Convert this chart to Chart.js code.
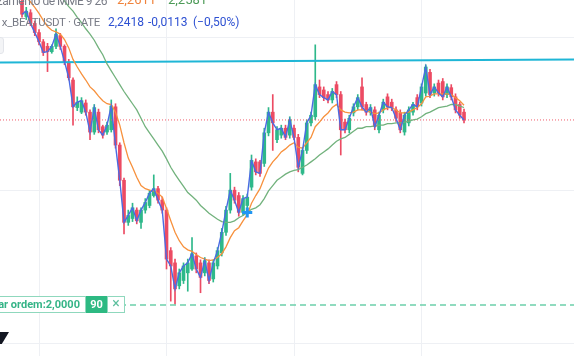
<!DOCTYPE html>
<html><head><meta charset="utf-8">
<script src="https://cdn.jsdelivr.net/npm/chart.js@4.4.1/dist/chart.umd.min.js"></script>
<style>
html,body{margin:0;padding:0;background:#fff;overflow:hidden;}
#wrap{position:relative;width:574px;height:356px;overflow:hidden;background:#fff;}
#c{position:absolute;left:0;top:0;}
.t{position:absolute;font-family:Roboto,"Noto Sans",sans-serif;font-size:11.5px;line-height:16px;white-space:nowrap;}
.r{text-align:right;}
</style></head><body>
<div id="wrap">
<canvas id="c" width="574" height="356"></canvas>
<div class="t r" style="right:467px;top:-7px;color:#787b86;font-size:12px;letter-spacing:-0.5px;">Cruzamento de MME 9 26</div>
<div class="t" style="left:117px;top:-8px;color:#f0833c;font-size:13px;">2,2611</div>
<div class="t" style="left:168px;top:-8px;color:#4c9a57;font-size:13px;">2,2581</div>
<div class="t r" style="right:474px;top:14px;color:#787b86;font-size:11.5px;letter-spacing:-0.3px;">x_BEATUSDT · GATE</div>
<div class="t" style="left:108px;top:14px;color:#2d50d2;font-size:12px;">2,2418</div>
<div class="t" style="left:148px;top:14px;color:#2d50d2;font-size:12px;">-0,0113</div>
<div class="t" style="left:193px;top:14px;color:#2d50d2;font-size:12px;">(−0,50%)</div>
<div style="position:absolute;left:-20px;top:37px;width:22px;height:15px;border:1px solid #e3e5ea;border-radius:3px;background:#f3f4f6;"></div>
<div style="position:absolute;left:-60px;top:296px;width:144px;height:15px;border:1px solid #8fd8bd;background:#fff;"></div>
<div class="t r" style="right:494px;top:296px;line-height:17px;font-size:11px;font-weight:bold;color:#35b487;">Executar ordem:2,0000</div>
<div style="position:absolute;left:86px;top:296px;width:21px;height:17px;background:#2db982;"></div>
<div class="t" style="left:86px;width:21px;top:296px;line-height:17px;font-size:11px;font-weight:bold;color:#fff;text-align:center;">90</div>
<div style="position:absolute;left:107px;top:296px;width:16px;height:15px;border:1px solid #8fd8bd;background:#fff;"></div>
<div class="t" style="left:108px;width:16px;top:295px;line-height:17px;font-size:14px;color:#5cbf9d;text-align:center;">×</div>
<div style="position:absolute;left:0;top:332px;width:9px;height:12px;background:#131722;clip-path:polygon(0 0,100% 0,20% 100%,0 100%);"></div>
</div>
<script>
// candle open / high / low / close (price)
const open = [2.397,2.377,2.382,2.368,2.356,2.344,2.338,2.331,2.338,2.352,2.338,2.317,2.294,2.258,2.252,2.264,2.252,2.226,2.252,2.233,
2.226,2.229,2.259,2.209,2.163,2.108,2.113,2.124,2.108,2.124,2.130,2.143,2.152,2.137,2.124,2.071,2.055,2.025,2.032,2.042,
2.047,2.064,2.055,2.042,2.055,2.034,2.051,2.068,2.095,2.124,2.150,2.143,2.121,2.130,2.154,2.187,2.187,2.185,2.225,2.252,
2.216,2.222,2.231,2.222,2.231,2.219,2.172,2.202,2.238,2.246,2.285,2.281,2.275,2.268,2.288,2.275,2.239,2.229,2.251,2.259,
2.285,2.262,2.252,2.255,2.229,2.255,2.272,2.265,2.255,2.251,2.226,2.238,2.252,2.271,2.264,2.277,2.304,2.277,2.290,2.292,
2.275,2.284,2.272,2.262,2.252];
const high = [2.410,2.389,2.386,2.371,2.360,2.347,2.342,2.340,2.361,2.355,2.340,2.321,2.297,2.272,2.271,2.268,2.255,2.262,2.256,2.235,
2.239,2.268,2.263,2.212,2.166,2.124,2.133,2.127,2.127,2.139,2.150,2.170,2.155,2.141,2.127,2.075,2.060,2.047,2.055,2.060,
2.088,2.068,2.059,2.062,2.059,2.059,2.075,2.100,2.129,2.172,2.154,2.147,2.143,2.145,2.196,2.191,2.189,2.231,2.258,2.275,
2.233,2.235,2.235,2.246,2.235,2.223,2.206,2.242,2.252,2.340,2.294,2.285,2.279,2.283,2.292,2.279,2.243,2.248,2.263,2.275,
2.297,2.265,2.262,2.259,2.252,2.269,2.276,2.269,2.259,2.255,2.252,2.259,2.265,2.275,2.289,2.314,2.308,2.289,2.294,2.296,
2.289,2.288,2.276,2.265,2.256];
const low = [2.376,2.373,2.365,2.352,2.340,2.326,2.305,2.329,2.335,2.334,2.314,2.294,2.235,2.254,2.250,2.248,2.216,2.223,2.225,2.218,
2.223,2.226,2.205,2.156,2.093,2.104,2.109,2.106,2.100,2.120,2.127,2.141,2.133,2.120,2.047,2.005,2.001,2.021,2.028,2.018,
2.045,2.042,2.016,2.038,2.028,2.030,2.047,2.064,2.091,2.120,2.133,2.116,2.117,2.126,2.150,2.170,2.168,2.181,2.221,2.202,
2.212,2.218,2.216,2.218,2.216,2.174,2.170,2.198,2.234,2.242,2.271,2.267,2.264,2.264,2.271,2.196,2.225,2.225,2.247,2.255,
2.255,2.248,2.248,2.229,2.225,2.251,2.255,2.254,2.240,2.225,2.222,2.234,2.248,2.255,2.260,2.273,2.271,2.273,2.273,2.268,
2.271,2.268,2.251,2.244,2.238];
const close = [2.380,2.384,2.368,2.356,2.344,2.330,2.331,2.338,2.354,2.338,2.318,2.297,2.259,2.265,2.267,2.252,2.226,2.258,2.229,2.222,
2.235,2.260,2.209,2.163,2.108,2.117,2.127,2.110,2.124,2.134,2.146,2.152,2.137,2.124,2.060,2.051,2.021,2.042,2.051,2.055,
2.067,2.047,2.036,2.058,2.032,2.055,2.071,2.095,2.124,2.150,2.137,2.121,2.139,2.141,2.189,2.174,2.172,2.225,2.252,2.238,
2.229,2.231,2.219,2.242,2.219,2.180,2.202,2.238,2.248,2.288,2.275,2.271,2.268,2.279,2.275,2.229,2.229,2.244,2.259,2.271,
2.259,2.252,2.258,2.233,2.248,2.265,2.259,2.258,2.244,2.229,2.248,2.255,2.262,2.259,2.285,2.311,2.275,2.285,2.277,2.272,
2.285,2.272,2.255,2.248,2.2418];
// EMA 9 (orange) and EMA 26 (green)
const ema9 = [2.413,2.403,2.396,2.389,2.381,2.372,2.364,2.359,2.357,2.354,2.347,2.336,2.321,2.311,2.302,2.294,2.285,2.280,2.273,2.267,
2.263,2.262,2.252,2.235,2.212,2.192,2.180,2.167,2.156,2.152,2.150,2.149,2.146,2.141,2.126,2.110,2.095,2.084,2.076,2.072,
2.070,2.066,2.062,2.060,2.058,2.059,2.062,2.067,2.076,2.088,2.097,2.101,2.110,2.118,2.133,2.143,2.152,2.166,2.179,2.187,
2.193,2.200,2.204,2.209,2.212,2.206,2.205,2.212,2.219,2.233,2.239,2.246,2.251,2.258,2.262,2.255,2.252,2.251,2.252,2.255,
2.255,2.254,2.252,2.250,2.251,2.255,2.258,2.258,2.255,2.251,2.251,2.252,2.255,2.258,2.263,2.272,2.273,2.276,2.276,2.276,
2.276,2.275,2.271,2.267,2.2611];
const ema26 = [2.465,2.459,2.452,2.445,2.439,2.431,2.424,2.418,2.411,2.405,2.397,2.390,2.384,2.376,2.369,2.361,2.354,2.346,2.336,2.327,
2.315,2.306,2.297,2.288,2.279,2.271,2.263,2.255,2.244,2.233,2.225,2.217,2.209,2.201,2.191,2.180,2.171,2.163,2.155,2.147,
2.142,2.137,2.130,2.125,2.120,2.116,2.112,2.109,2.108,2.108,2.110,2.114,2.117,2.121,2.125,2.127,2.131,2.139,2.149,2.156,
2.163,2.167,2.171,2.174,2.176,2.177,2.180,2.183,2.187,2.191,2.196,2.200,2.204,2.209,2.214,2.217,2.219,2.223,2.227,2.231,
2.231,2.233,2.233,2.234,2.235,2.235,2.237,2.237,2.238,2.238,2.239,2.240,2.242,2.243,2.246,2.250,2.252,2.255,2.258,2.259,
2.260,2.262,2.262,2.260,2.2581];
const lastPrice = 2.2418;
const orderPrice = 2.0000;
const trendLine = [2.3170, 2.3209];   // cyan drawing, left & right ends
const marker = {bar: 53, price: 2.121};
const gridBars = [4, 34, 64, 94];
const gridPrices = [1.95, 2.15, 2.35];

const bars = close.map((_, i) => i);
const X_MIN = -5.18, X_MAX = 129.88, Y_MIN = 1.9333, Y_MAX = 2.3986;
const UP = '#2eb88a', DOWN = '#ec4b63';
const isUp = i => close[i] >= open[i];
const col = ctx => isUp(ctx.dataIndex) ? UP : DOWN;
const pts = arr => arr.map((v, i) => ({x: bars[i], y: v}));

new Chart(document.getElementById('c'), {
  type: 'bar',
  data: {
    datasets: [
      {type:'scatter', data:[{x:marker.bar, y:marker.price}], pointStyle:'cross', pointRadius:5, pointBorderWidth:3, borderColor:'#2196f3', backgroundColor:'#2196f3', order:0},
      {type:'line', data:pts(close), borderColor:'#4a6be3', borderWidth:1.4, pointRadius:0, tension:0, order:1},
      {type:'line', data:pts(ema9), borderColor:'#f7913d', borderWidth:1.3, pointRadius:0, tension:0, order:2},
      {type:'line', data:pts(ema26), borderColor:'#72b27d', borderWidth:1.3, pointRadius:0, tension:0, order:3},
      {type:'line', data:[{x:X_MIN,y:trendLine[0]},{x:X_MAX,y:trendLine[1]}], borderColor:'#1fb6d6', borderWidth:2, pointRadius:0, order:4},
      {type:'line', data:[{x:X_MIN,y:lastPrice},{x:X_MAX,y:lastPrice}], borderColor:'#f05a6a', borderWidth:1, borderDash:[1,2], pointRadius:0, order:5},
      {type:'line', data:[{x:X_MIN,y:orderPrice},{x:X_MAX,y:orderPrice}], borderColor:'#6ccfab', borderWidth:1.5, borderDash:[6,4], pointRadius:0, order:6},
      {type:'bar', data:bars.map(i => ({x:i, y:[open[i], close[i]]})), backgroundColor:col, barThickness:3, minBarLength:1, grouped:false, order:7},
      {type:'bar', data:bars.map(i => ({x:i, y:[low[i], high[i]]})), backgroundColor:col, barThickness:1, grouped:false, order:8}
    ]
  },
  options: {
    responsive:false, animation:false, devicePixelRatio:1,
    layout:{padding:0, autoPadding:false},
    plugins:{legend:{display:false}, tooltip:{enabled:false}},
    scales:{
      x:{type:'linear', min:X_MIN, max:X_MAX, offset:false,
         grid:{color:'#eef0f4', drawTicks:false, offset:false}, border:{display:false},
         ticks:{display:false}, afterBuildTicks:s => { s.ticks = gridBars.map(v => ({value:v})); }},
      y:{type:'linear', min:Y_MIN, max:Y_MAX,
         grid:{color:'#eef0f4', drawTicks:false}, border:{display:false},
         ticks:{display:false}, afterBuildTicks:s => { s.ticks = gridPrices.map(v => ({value:v})); }}
    }
  }
});
</script>
</body></html>
